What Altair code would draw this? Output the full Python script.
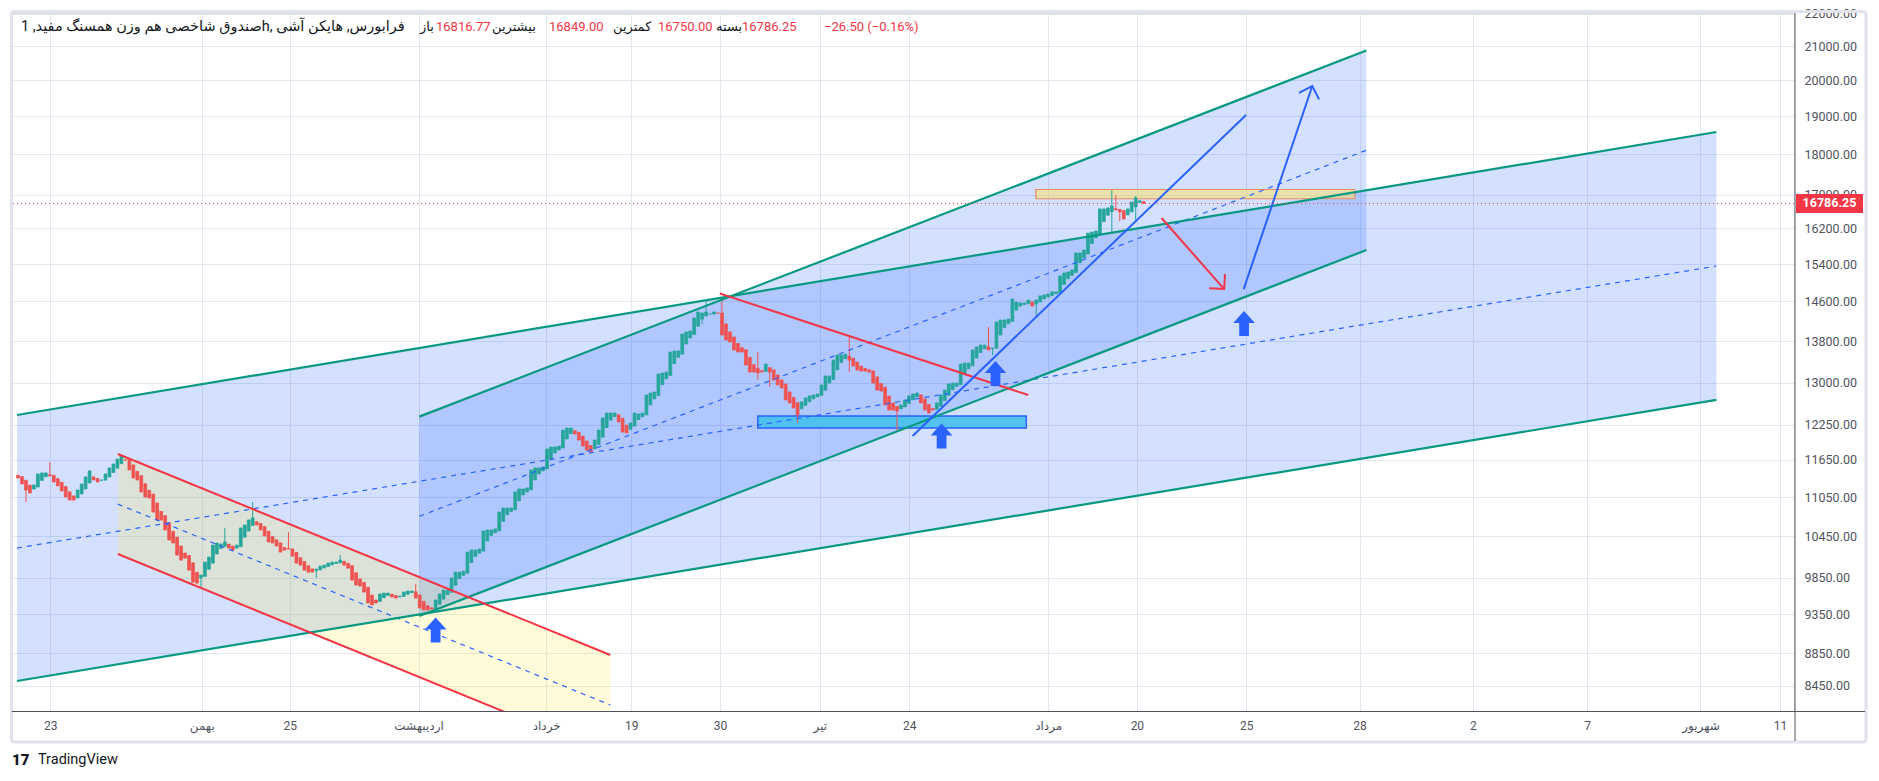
import altair as alt
import pandas as pd

# ---------------- data ----------------
# Heikin-Ashi closes, one per hourly bar (bar index 0..283)
ha_close = [
    11355, 11259, 11163, 11115, 11243, 11421, 11437, 11437, 11388, 11291,
    11227, 11147, 11052, 11004, 11004, 11163, 11259, 11372, 11470, 11323,
    11291, 11323, 11421, 11519, 11584, 11666, 11716, 11649, 11486, 11356,
    11323, 11131, 11052, 11036, 10818, 10696, 10696, 10545, 10395, 10351,
    10175, 10102, 10131, 9959, 9791, 9777, 9889, 10073, 10146, 10321,
    10351, 10336, 10366, 10277, 10248, 10321, 10575, 10620, 10696, 10727,
    10620, 10545, 10455, 10366, 10351, 10307, 10219, 10248, 10263, 10160,
    10059, 10030, 9959, 9931, 9931, 9973, 10016, 10030, 10059, 10073,
    10073, 10102, 10030, 9987, 9819, 9750, 9736, 9653, 9504, 9477,
    9504, 9626, 9639, 9639, 9585, 9571, 9598, 9653, 9667, 9667,
    9571, 9436, 9409, 9409, 9422, 9544, 9626, 9680, 9680, 9847,
    9931, 9931, 9945, 10219, 10248, 10248, 10263, 10530, 10545, 10545,
    10560, 10818, 10879, 10879, 10879, 11131, 11179, 11179, 11195, 11486,
    11519, 11519, 11535, 11833, 11867, 11867, 11884, 12157, 12192, 12192,
    12089, 11986, 11884, 11816, 11783, 11986, 12157, 12368, 12456, 12456,
    12456, 12298, 12123, 12106, 12280, 12456, 12438, 12456, 12780, 12816,
    12833, 13167, 13186, 13204, 13586, 13606, 13606, 13939, 13979, 13998,
    14260, 14383, 14362, 14383, 14342, 14383, 14362, 13919, 13820, 13781,
    13625, 13586, 13586, 13336, 13204, 13204, 13186, 13204, 13355, 13204,
    13055, 12963, 12907, 12690, 12636, 12545, 12421, 12654, 12726, 12762,
    12780, 12798, 12963, 13130, 13130, 13431, 13528, 13528, 13547, 13431,
    13318, 13242, 13223, 13223, 13204, 12999, 12870, 12852, 12600, 12509,
    12509, 12491, 12600, 12690, 12762, 12798, 12816, 12636, 12509, 12456,
    12509, 12636, 12780, 12870, 12981, 12999, 12999, 13355, 13374, 13374,
    13625, 13683, 13722, 13722, 13625, 13664, 14179, 14219, 14219, 14239,
    14651, 14588, 14567, 14567, 14630, 14506, 14630, 14715, 14736, 14757,
    14800, 14800, 15140, 15205, 15227, 15270, 15643, 15643, 15710, 16093,
    16116, 16140, 16656, 16656, 16679, 16726, 16632, 16585, 16418, 16656,
    16822, 16918, 16850, 16786.25,
]
ha_first_open = 11400
wick_high = {8: 11616, 52: 10575, 59: 10973, 68: 10515, 81: 10175, 100: 9763,
             173: 14609, 177: 14630, 186: 13586, 209: 13919, 244: 14078,
             275: 17110, 276: 16990, 281: 16966}
wick_low = {2: 10973, 46: 9722, 75: 9847, 172: 14138, 186: 13055, 189: 12926,
            196: 12280, 209: 13204, 221: 12123, 245: 13528, 256: 14280,
            275: 16116, 277: 16372, 281: 16395}

price_ticks = [22000, 21000, 20000, 19000, 18000, 17000, 16200, 15400, 14600,
               13800, 13000, 12250, 11650, 11050, 10450, 9850, 9350, 8850, 8450]
time_tick_pos = [8.1, 46.2, 68.3, 100.7, 132.8, 154.2, 176.5, 201.6, 224.1,
                 259.0, 281.3, 308.8, 337.3, 365.8, 394.5, 423.0, 443.0]
time_tick_labels = ["23", "بهمن", "25", "اردیبهشت", "خرداد", "19", "30", "تیر",
                    "24", "مرداد", "20", "25", "28", "2", "7", "شهریور", "11"]

last_price = 16786.25
title_text = "صندوق شاخصی هم وزن همسنگ مفید, 1h, فرابورس, هایکن آشی"
ohlc_names = ["باز", "بیشترین", "کمترین", "بسته"]
ohlc_values = ["16816.77", "16849.00", "16750.00", "16786.25"]
change_text = "−26.50 (−0.16%)"

# drawings: (bar index, price)
chan_a_x = [-0.25, 427.0]
chan_a_upper = [12421, 18584]
chan_a_mid = [10277, 15356]
chan_a_lower = [8505, 12690]
chan_b_x = [100.9, 339.0]
chan_b_upper = [12392, 20871]
chan_b_mid = [10752, 18108]
chan_b_lower = [9329, 15709]
down_x = [25.1, 148.9]
down_upper = [11750, 8825]
down_mid = [10941, 8219]
down_lower = [10190, 7654]
red_trend_x = [176.45, 254.0]
red_trend_y = [14767, 12779]
blue_trend_x = [224.9, 308.75]
blue_trend_y = [12055, 19039]
up_arrow_x = [308.15, 325.4]
up_arrow_y = [14860, 19842]
down_arrow_x = [287.5, 303.25]
down_arrow_y = [16442, 14860]
support_x = [186.0, 253.5]
support_y = [12192, 12403]
resist_x = [255.9, 336.1]
resist_y = [16900, 17124]
signal_x = [105.0, 232.2, 245.75, 308.25]
signal_y = [9145, 12055, 13176, 14149]

# ---------------- styling ----------------
GREEN = "#26a69a"
RED = "#ef5350"
TEAL = "#089981"
BLUE = "#2962ff"
REDLINE = "#f23645"
GRID = "#e1e7ef"
LABEL = "#50535e"
FONT = "Roboto, 'DejaVu Sans', sans-serif"

W, H = 1782, 698
xs = alt.Scale(domain=[-0.25, 445.25], nice=False, zero=False)
ys = alt.Scale(type="log", domain=[8149, 22016], nice=False)

pos_js = "[" + ",".join(str(v) for v in time_tick_pos) + "]"
lab_js = "[" + ",".join("'" + s + "'" for s in time_tick_labels) + "]"
x_axis = alt.Axis(values=time_tick_pos, labelExpr=f"{lab_js}[indexof({pos_js}, datum.value)]",
                  grid=True, gridColor=GRID, gridWidth=1, domain=False, ticks=False,
                  tickSize=0, labelPadding=14, labelBaseline="middle", labelFontSize=12,
                  labelColor=LABEL, labelFont=FONT, labelOverlap=False, labelFlush=False,
                  title=None)
y_axis = alt.Axis(orient="right", values=price_ticks, format=".2f", grid=True,
                  gridColor=GRID, gridWidth=1, domain=False, ticks=False, tickSize=0,
                  labelPadding=10, labelAlign="left", labelBaseline="middle",
                  labelFontSize=12.5, labelColor=LABEL, labelFont=FONT,
                  labelOverlap=False, labelFlush=False, title=None)


def X(f):
    return alt.X(f, type="quantitative", scale=xs, axis=x_axis)


def Y(f):
    return alt.Y(f, type="quantitative", scale=ys, axis=y_axis)


# candles
rows = []
prev_o = prev_c = None
for i, c in enumerate(ha_close):
    o = ha_first_open if i == 0 else (prev_o + prev_c) / 2
    hi = max(o, c, wick_high.get(i, 0))
    lo = min(o, c, wick_low.get(i, 1e12))
    rows.append(dict(i=i, open=o, close=c, high=hi, low=lo,
                     dir="up" if c >= o else "down"))
    prev_o, prev_c = o, c
candles = pd.DataFrame(rows)
cscale = alt.Scale(domain=["up", "down"], range=[GREEN, RED])


def band(xv, up, lo):
    return pd.DataFrame({"x": xv, "up": up, "lo": lo})


def seg_df(pairs):
    out = []
    for k, (xv, yv) in enumerate(pairs):
        for a, b in zip(xv, yv):
            out.append({"id": k, "x": a, "y": b})
    return pd.DataFrame(out)


one = pd.DataFrame({"k": [0]})

layers = []
# channel fills
layers.append(alt.Chart(band(chan_a_x, chan_a_upper, chan_a_lower)).mark_area(
    color=BLUE, opacity=0.2).encode(x=X("x"), y=Y("up"), y2="lo"))
layers.append(alt.Chart(band(chan_b_x, chan_b_upper, chan_b_lower)).mark_area(
    color=BLUE, opacity=0.2).encode(x=X("x"), y=Y("up"), y2="lo"))
layers.append(alt.Chart(band(down_x, down_upper, down_lower)).mark_area(
    color="#ffeb3b", opacity=0.2, clip=True).encode(x=X("x"), y=Y("up"), y2="lo"))

# rectangles
layers.append(alt.Chart(pd.DataFrame({"x": [support_x[0]], "x2": [support_x[1]],
                                      "y": [support_y[0]], "y2": [support_y[1]]}))
              .mark_rect(fill="#45c0ec", fillOpacity=0.9, stroke=BLUE, strokeWidth=1.5)
              .encode(x=X("x"), x2="x2", y=Y("y"), y2="y2"))
layers.append(alt.Chart(pd.DataFrame({"x": [resist_x[0]], "x2": [resist_x[1]],
                                      "y": [resist_y[0]], "y2": [resist_y[1]]}))
              .mark_rect(fill="#ffe45c", fillOpacity=0.5, stroke="#f08a5d", strokeWidth=1.2)
              .encode(x=X("x"), x2="x2", y=Y("y"), y2="y2"))

# candles
layers.append(alt.Chart(candles).mark_rule(strokeWidth=1).encode(
    x=X("i"), y=Y("low"), y2="high",
    color=alt.Color("dir:N", scale=cscale, legend=None)))
layers.append(alt.Chart(candles).mark_bar(size=2.8, strokeWidth=0.8).encode(
    x=X("i"), y=Y("open"), y2="close",
    color=alt.Color("dir:N", scale=cscale, legend=None),
    stroke=alt.Stroke("dir:N", scale=cscale, legend=None)))

# dashed mid lines
layers.append(alt.Chart(seg_df([(chan_a_x, chan_a_mid), (chan_b_x, chan_b_mid),
                                (down_x, down_mid)]))
              .mark_line(color=BLUE, strokeWidth=1.2, strokeDash=[5, 5], clip=True)
              .encode(x=X("x"), y=Y("y"), detail="id:N"))
# teal channel borders
layers.append(alt.Chart(seg_df([(chan_a_x, chan_a_upper), (chan_a_x, chan_a_lower),
                                (chan_b_x, chan_b_upper), (chan_b_x, chan_b_lower)]))
              .mark_line(color=TEAL, strokeWidth=2.2, clip=True)
              .encode(x=X("x"), y=Y("y"), detail="id:N"))
# red lines
layers.append(alt.Chart(seg_df([(down_x, down_upper), (down_x, down_lower),
                                (red_trend_x, red_trend_y), (down_arrow_x, down_arrow_y)]))
              .mark_line(color=REDLINE, strokeWidth=2, clip=True)
              .encode(x=X("x"), y=Y("y"), detail="id:N"))
# blue lines
layers.append(alt.Chart(seg_df([(blue_trend_x, blue_trend_y), (up_arrow_x, up_arrow_y)]))
              .mark_line(color=BLUE, strokeWidth=2, clip=True)
              .encode(x=X("x"), y=Y("y"), detail="id:N"))
# arrow heads
HEAD = "M-1,1 L0,0 L1,1"
layers.append(alt.Chart(pd.DataFrame({"x": [up_arrow_x[1]], "y": [up_arrow_y[1]]}))
              .mark_point(shape=HEAD, size=450, filled=False, color=BLUE, strokeWidth=2,
                          opacity=1, angle=18)
              .encode(x=X("x"), y=Y("y")))
layers.append(alt.Chart(pd.DataFrame({"x": [down_arrow_x[1]], "y": [down_arrow_y[1]]}))
              .mark_point(shape=HEAD, size=450, filled=False, color=REDLINE, strokeWidth=2,
                          opacity=1, angle=138)
              .encode(x=X("x"), y=Y("y")))
# thick signal arrows
ICON = "M0,-1.15 L1,-0.05 L0.45,-0.05 L0.45,1.15 L-0.45,1.15 L-0.45,-0.05 L-1,-0.05 Z"
layers.append(alt.Chart(pd.DataFrame({"x": signal_x, "y": signal_y}))
              .mark_point(shape=ICON, size=470, filled=True, color=BLUE, opacity=1,
                          strokeWidth=0)
              .encode(x=X("x"), y=Y("y")))

# last price dotted line + label
lp = pd.DataFrame({"p": [last_price]})
layers.append(alt.Chart(lp).mark_rule(color=REDLINE, strokeWidth=1, strokeDash=[1, 3])
              .encode(y=Y("p")))
BOX = "M-1,-0.2836 L1,-0.2836 L1,0.2836 L-1,0.2836 Z"
layers.append(alt.Chart(lp).mark_point(shape=BOX, size=4489, filled=True, color=REDLINE,
                                       opacity=1, strokeWidth=0)
              .encode(x=alt.value(1817.5), y=Y("p")))
layers.append(alt.Chart(lp).mark_text(color="white", fontWeight="bold", fontSize=12.5,
                                      font=FONT, align="center", baseline="middle")
              .encode(x=alt.value(1817.5), y=Y("p"), text=alt.Text("p:Q", format=".2f")))

# frame and scale lines
layers.append(alt.Chart(one).mark_rect(fillOpacity=0, stroke="#e0e3eb", strokeWidth=3,
                                       cornerRadius=3)
              .encode(x=alt.value(-0.5), x2=alt.value(1854), y=alt.value(-1.5),
                      y2=alt.value(729)))
layers.append(alt.Chart(one).mark_rule(color="#50535e", strokeWidth=1)
              .encode(x=alt.value(0), x2=alt.value(1853), y=alt.value(698.5)))
layers.append(alt.Chart(one).mark_rule(color="#50535e", strokeWidth=1)
              .encode(x=alt.value(1783), y=alt.value(0), y2=alt.value(728)))


def txt(s, x, y, color, size=12.5, weight="normal", align="left"):
    return alt.Chart(one).mark_text(text=s, align=align, baseline="middle", font=FONT,
                                    fontSize=size, color=color, fontWeight=weight) \
        .encode(x=alt.value(x), y=alt.value(y))


# header legend
layers.append(txt(title_text, 9, 14, "#131722", 14.5))
name_x = [408, 480, 601, 704]
val_x = [424, 537, 646, 730]
for nm, nx, vv, vx in zip(ohlc_names, name_x, ohlc_values, val_x):
    layers.append(txt(nm, nx, 14, "#131722", 13))
    layers.append(txt(vv, vx, 14, REDLINE, 13))
layers.append(txt(change_text, 812, 14, REDLINE, 13))

# TradingView logo
layers.append(txt("17", 0, 747, "#131722", 15, 900))
layers.append(txt("TradingView", 26, 747, "#131722", 14.5))

chart = alt.layer(*layers).properties(
    width=W, height=H,
    padding={"left": 4, "top": 5, "right": 77, "bottom": 60},
    autosize=alt.AutoSizeParams(type="none"),
).configure_view(strokeWidth=0).configure(background="white")

chart.save("out.html", embed_options={"renderer": "svg", "actions": False})
